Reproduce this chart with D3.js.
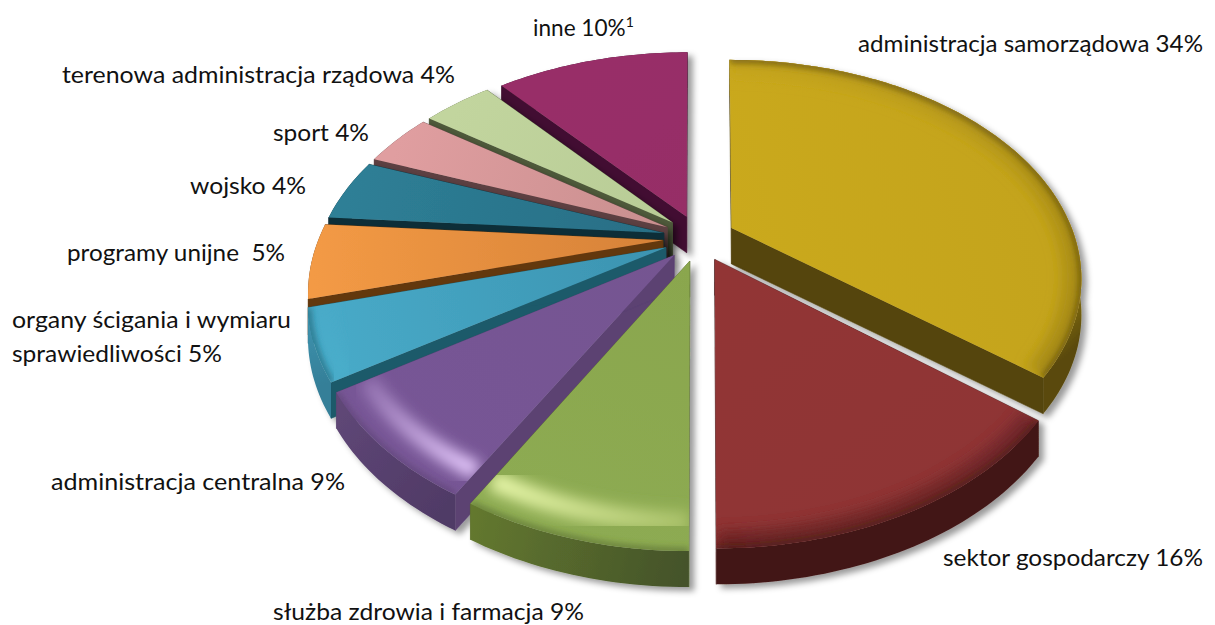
<!DOCTYPE html>
<html>
<head>
<meta charset="utf-8">
<style>
	html, body { margin: 0; padding: 0; background: #fff; overflow: hidden; }
	text { font-family: Lato, "Open Sans", sans-serif; font-size: 22.6px; fill: #111; }
</style>
</head>
<body>
<div id="chart"></div>

<script src="https://d3js.org/d3.v7.min.js"></script>
<script>

	var w = 1215, h = 625;

	// data, clockwise from twelve o'clock. values = slice sizes,
	// they are a bit off the percentages printed in the labels
	var categories = ["administracja samorządowa", "sektor gospodarczy", "służba zdrowia i farmacja",
		"administracja centralna", "organy ścigania i wymiaru sprawiedliwości", "programy unijne",
		"wojsko", "sport", "terenowa administracja rządowa", "inne"];
	var values = [35.7, 14.3, 8.2, 7.6, 5.0, 5.4, 4.6, 4.0, 4.0, 11.2];

	// colours
	var topColors = ["#caa91e", "#923434", "#8aa64e", "#755491", "#3c93b0", "#d68238", "#286e85", "#c98f8f", "#b8cc96", "#962e66"];
	var topRimColors = ["#c4a41c", "#8f3434", "#8dab52", "#775696", "#48abc9", "#f39a45", "#2e7f96", "#e09ea0", "#c2d59e", "#982f68"];
	var sideColors = ["#54440c", "#431716", "#56692e", "#5b4272", "#1f5a6a", "#63370f", "#0d2f38", "#5d4042", "#4f5a3b", "#421130"];
	var wallStart = ["#a88c18", "#431716", "#44532a", "#503a66", "#357f98", "#63370f", "#0d2f38", "#5d4042", "#4f5a3b", "#421130"];
	var wallEnd = ["#5a4a0c", "#431716", "#64792f", "#604878", "#3f96b2", "#63370f", "#0d2f38", "#5d4042", "#4f5a3b", "#421130"];
	var wallHold = [0.85, 0, 0, 0, 0, 0, 0, 0, 0, 0];
	// bevel glow along the outer rim, from first to last end of the arc (null = none)
	var glowStart = ["#c4a41c", "#70282a", "#a8c068", "#e8ccff", "#4ab0cc", null, null, null, null, null];
	var glowEnd = ["#a88c18", "#6a2424", "#eefcb0", "#8a68a8", "#48aac8", null, null, null, null, null];
	var glowRadius = [0.985, 0.99, 0.92, 0.92, 0.96, 0, 0, 0, 0, 0];
	var glowWidth = [26, 26, 20, 18, 12, 0, 0, 0, 0, 0];

	// order of painting, back to front
	var paintOrder = [9, 0, 8, 7, 6, 5, 4, 3, 1, 2];

	// labels
	var labelLines = [
		{ text: "administracja samorządowa 34%", x: 858, y: 52, len: 345 },
		{ text: "sektor gospodarczy 16%", x: 943, y: 566, len: 260 },
		{ text: "służba zdrowia i farmacja 9%", x: 273, y: 620, len: 311 },
		{ text: "administracja centralna 9%", x: 51, y: 490, len: 294 },
		{ text: "organy ścigania i wymiaru", x: 12, y: 328, len: 279 },
		{ text: "sprawiedliwości 5%", x: 12, y: 362, len: 210 },
		{ text: "programy unijne  5%", x: 67, y: 261, len: 218 },
		{ text: "wojsko 4%", x: 190, y: 194, len: 116 },
		{ text: "sport 4%", x: 273, y: 141, len: 96 },
		{ text: "terenowa administracja rządowa 4%", x: 62, y: 83, len: 393 }
	];

	var svg = d3.select("#chart")
				.append("svg")
				.attr("width", w)
				.attr("height", h);

	var defs = svg.append("defs");

	var shadow = defs.append("filter").attr("id", "shadow")
		.attr("x", "-10%").attr("y", "-10%").attr("width", "125%").attr("height", "125%");
	shadow.append("feDropShadow")
		.attr("dx", 5).attr("dy", 4).attr("stdDeviation", 3)
		.attr("flood-color", "#000").attr("flood-opacity", 0.4);

	defs.append("filter").attr("id", "blurWide").append("feGaussianBlur").attr("stdDeviation", 7);
	defs.append("filter").attr("id", "blurThin").append("feGaussianBlur").attr("stdDeviation", 3);

	// disk units to screen
	var x = d3.scaleLinear().domain([-1, 1]).range([699 - 344, 699 + 344]),
		y = d3.scaleLinear().domain([-1, 1]).range([238 - 211, 238 + 211]);
	var persp = 0.23, explodeX = 0.105, explodeY = 0.11, depth = 36;

	var pie = d3.pie().sort(null).value(function(d) { return d; });
	var slices = pie(values);

	// point of a slice at radius r and angle a
	function point(d, r, a) {
		var mid = (d.startAngle + d.endAngle) / 2;
		var u = r * Math.sin(a), shift = explodeX * Math.sin(mid);
		var v = -explodeY * Math.cos(mid) - r * Math.cos(a);
		var f = 1 / (1 - persp * v);
		// the slice shift flares less than the disk itself
		return [x(u * f + shift * (1 + (f - 1) * 0.3)), y(v * f)];
	}

	function rimPoints(d, r) {
		var n = Math.max(8, Math.ceil((d.endAngle - d.startAngle) / 0.02));
		return d3.range(n + 1).map(function(i) {
			return point(d, r, d.startAngle + (d.endAngle - d.startAngle) * i / n);
		});
	}

	function down(p) { return [p[0], p[1] + depth]; }

	var line = d3.line();
	var closePath = function(pts) { return line(pts) + "Z"; };

	function gradient(id, a, b, stops) {
		var g = defs.append("linearGradient").attr("id", id)
			.attr("gradientUnits", "userSpaceOnUse")
			.attr("x1", a[0]).attr("y1", a[1]).attr("x2", b[0]).attr("y2", b[1]);
		stops.forEach(function(s) {
			g.append("stop").attr("offset", s[0]).attr("stop-color", s[1]);
		});
		return "url(#" + id + ")";
	}

	var chart = svg.append("g");

	paintOrder.forEach(function(i) {
		var d = slices[i];
		var g = chart.append("g").attr("filter", "url(#shadow)");
		var apex = point(d, 0, 0);
		var rim = rimPoints(d, 1);
		var first = rim[0], last = rim[rim.length - 1];
		var midRim = rim[Math.floor(rim.length / 2)];

		// cut faces
		[first, last].forEach(function(p) {
			g.append("path")
				.attr("d", closePath([apex, p, down(p), down(apex)]))
				.attr("fill", sideColors[i])
				.attr("stroke", sideColors[i]).attr("stroke-width", 0.5);
		});

		// outer wall
		g.append("path")
			.attr("d", closePath(rim.concat(rim.map(down).reverse())))
			.attr("fill", gradient("wall" + i, first, last,
				[[0, wallStart[i]], [wallHold[i], wallStart[i]], [1, wallEnd[i]]]));

		// top face
		var topPath = closePath([apex].concat(rim));
		g.append("path").attr("d", topPath)
			.attr("fill", gradient("top" + i, apex, midRim, [[0, topColors[i]], [1, topRimColors[i]]]));

		defs.append("clipPath").attr("id", "clip" + i).append("path").attr("d", topPath);
		var bevel = g.append("g").attr("clip-path", "url(#clip" + i + ")");

		if (glowStart[i]) {
			bevel.append("path")
				.attr("d", line(rimPoints(d, glowRadius[i])))
				.attr("fill", "none")
				.attr("stroke", gradient("glow" + i, first, last, [[0, glowStart[i]], [1, glowEnd[i]]]))
				.attr("stroke-width", glowWidth[i])
				.attr("filter", "url(#blurWide)");
			bevel.append("path")
				.attr("d", line(rim))
				.attr("fill", "none")
				.attr("stroke", sideColors[i])
				.attr("stroke-opacity", 0.7)
				.attr("stroke-width", 6)
				.attr("filter", "url(#blurThin)");
		}
	});

	// labels
	labelLines.forEach(function(l) {
		svg.append("text")
			.attr("x", l.x).attr("y", l.y)
			.attr("textLength", l.len).attr("lengthAdjust", "spacingAndGlyphs")
			.attr("xml:space", "preserve")
			.text(l.text);
	});

	var inne = svg.append("text").attr("x", 533).attr("y", 36);
	inne.append("tspan").text("inne 10%");
	inne.append("tspan").attr("dy", -9).style("font-size", "14px").text("1");

</script>
</body>
</html>
